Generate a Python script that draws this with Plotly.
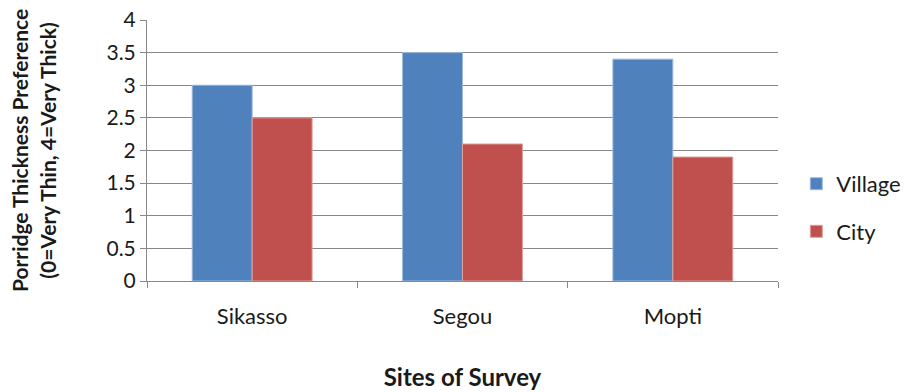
import plotly.graph_objects as go

sites = ["Sikasso", "Segou", "Mopti"]
village = [3.0, 3.5, 3.4]
city = [2.5, 2.1, 1.9]
y_ticks = [0, 0.5, 1, 1.5, 2, 2.5, 3, 3.5, 4]
y_tick_text = ["0", "0.5", "1", "1.5", "2", "2.5", "3", "3.5", "4"]

FONT = "Lato"
AXIS_GREY = "#888888"

fig = go.Figure()
fig.add_trace(go.Bar(name="Village", x=sites, y=village, legendgroup="v",
                     marker=dict(color="#4F81BD", line=dict(color="#9DB9DD", width=1))))
fig.add_trace(go.Bar(name="City", x=sites, y=city, legendgroup="c",
                     marker=dict(color="#C0504D", line=dict(color="#DDA09E", width=1))))

fig.update_layout(
    width=905, height=392,
    margin=dict(l=147, r=127, t=20, b=111, autoexpand=False),
    paper_bgcolor="white", plot_bgcolor="white",
    barmode="group", bargap=0.43, bargroupgap=0,
    font=dict(family=FONT, size=21, color="#1a1a1a"),
    legend=dict(x=1.029, y=0.28, yanchor="middle", xanchor="left",
                font=dict(size=22), itemwidth=30, tracegroupgap=16,
                bgcolor="rgba(0,0,0,0)"),
    xaxis=dict(
        showline=True, linecolor=AXIS_GREY, linewidth=1,
        ticks="outside", tickson="boundaries", ticklen=6, tickcolor=AXIS_GREY,
        tickfont=dict(size=22), ticklabelstandoff=16,
        title=dict(text="<b>Sites of Survey</b>", font=dict(size=24), standoff=40),
        showgrid=False, automargin=False,
    ),
    yaxis=dict(
        range=[0, 4], tickvals=y_ticks, ticktext=y_tick_text,
        showline=True, linecolor=AXIS_GREY, linewidth=1,
        ticks="outside", ticklen=6, tickcolor=AXIS_GREY,
        showgrid=True, gridcolor=AXIS_GREY, gridwidth=1,
        tickfont=dict(size=21),
        title=dict(text="<b>Porridge Thickness Preference<br>(0=Very Thin, 4=Very Thick)</b>",
                   font=dict(size=21), standoff=44),
        zeroline=False, automargin=False,
    ),
)

fig.write_html("out.html")
